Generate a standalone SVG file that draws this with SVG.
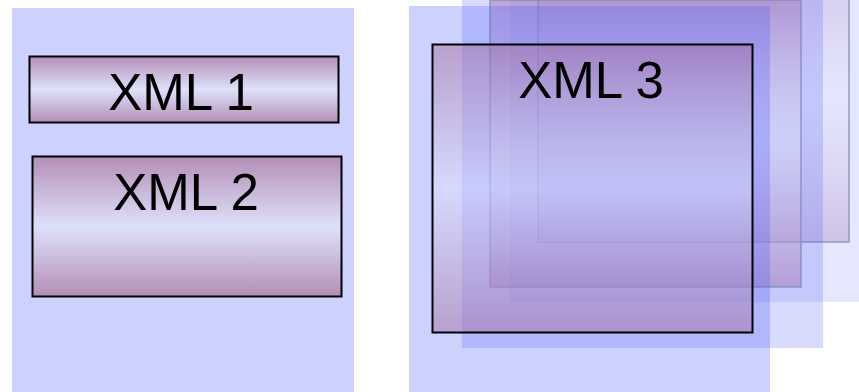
<svg xmlns="http://www.w3.org/2000/svg" width="859" height="392" viewBox="0 0 859 392">
  <defs>
    <!-- solid card fill: mauve edges, pale lavender centre -->
    <linearGradient id="mauve" x1="0" y1="0" x2="0" y2="1">
      <stop offset="0" stop-color="#b48eb6"/>
      <stop offset="0.5" stop-color="#dee1fb"/>
      <stop offset="1" stop-color="#b48eb6"/>
    </linearGradient>
    <!-- front card of the stack, used at partial opacity -->
    <linearGradient id="mauve-front" x1="0" y1="0" x2="0" y2="1">
      <stop offset="0" stop-color="rgb(165,110,160)"/>
      <stop offset="0.5" stop-color="rgb(222,225,251)"/>
      <stop offset="1" stop-color="rgb(165,110,160)"/>
    </linearGradient>
    <!-- faded copies behind the front card -->
    <linearGradient id="mauve-ghost" x1="0" y1="0" x2="0" y2="1">
      <stop offset="0" stop-color="rgb(170,130,190)" stop-opacity="0.6"/>
      <stop offset="0.5" stop-color="rgb(225,228,252)" stop-opacity="0.4"/>
      <stop offset="1" stop-color="rgb(170,130,190)" stop-opacity="0.6"/>
    </linearGradient>
    <style>
      .panel { fill: #4e5cfa; }
      .box { fill: url(#mauve); stroke: #000; stroke-width: 2; }
      .ghost { fill: url(#mauve-ghost); stroke: #7f88b4; stroke-opacity: 0.6; stroke-width: 2; }
      .lbl { font-family: "Liberation Sans", Arial, sans-serif; font-size: 51px; fill: #000; text-anchor: middle; }
    </style>
  </defs>

  <rect width="859" height="392" fill="#ffffff"/>

  <!-- left column -->
  <g id="left-panel">
    <rect class="panel" x="12" y="8" width="342" height="390" fill-opacity="0.282"/>
  </g>
  <g id="xml1">
    <rect class="box" x="29.5" y="56.5" width="309" height="66"/>
    <text class="lbl" x="181" y="110">XML 1</text>
  </g>
  <g id="xml2">
    <rect class="box" x="32.5" y="156.5" width="309" height="140"/>
    <text class="lbl" x="186" y="210">XML 2</text>
  </g>

  <!-- right column: a stack of three sheets, back to front -->
  <g id="xml3">
    <g id="sheet-back">
      <rect class="panel" x="510" y="-90" width="361" height="392" fill-opacity="0.147"/>
      <rect class="ghost" x="538" y="-46" width="311" height="288" fill-opacity="0.6"/>
    </g>
    <g id="sheet-middle">
      <rect class="panel" x="462" y="-40" width="361" height="388" fill-opacity="0.22"/>
      <rect class="ghost" x="490" y="0" width="311" height="287"/>
    </g>
    <g id="sheet-front">
      <rect class="panel" x="409" y="6" width="361" height="392" fill-opacity="0.282"/>
      <rect x="432.5" y="44.5" width="320" height="288" fill="url(#mauve-front)" fill-opacity="0.5"/>
      <rect x="432.5" y="44.5" width="320" height="288" fill="none" stroke="#000" stroke-width="2"/>
    </g>
    <text class="lbl" x="591" y="98" font-size="53">XML 3</text>
  </g>
</svg>
